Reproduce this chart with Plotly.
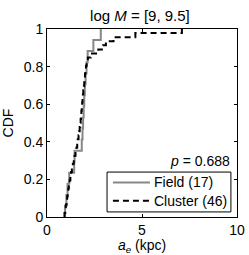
import plotly.graph_objects as go

field = [0.95, 1.02, 1.08, 1.17, 1.43, 1.45, 1.83, 1.87, 1.9, 1.93, 1.96, 1.99,
         2.03, 2.08, 2.14, 2.44, 2.83]
cluster = [0.92, 0.96, 0.99, 1.03, 1.06, 1.09, 1.12, 1.15, 1.19, 1.23, 1.27, 1.31,
           1.36, 1.41, 1.45, 1.5, 1.55, 1.59, 1.62, 1.66, 1.69, 1.72, 1.75, 1.77,
           1.79, 1.81, 1.83, 1.85, 1.87, 1.89, 1.91, 1.94, 1.96, 1.98, 2.0, 2.02,
           2.05, 2.09, 2.15, 2.3, 2.7, 2.95, 3.1, 3.5, 4.65, 7.1]
x_ticks = [0, 5, 10]
y_ticks = [0, 0.2, 0.4, 0.6, 0.8, 1]
p_value = "0.688"


def ecdf(vals):
    s = sorted(vals)
    n = len(s)
    xs = [s[0]] + s
    ys = [0] + [(i + 1) / n for i in range(n)]
    return xs, ys


FONT = "Liberation Sans, Arial, Helvetica, sans-serif"
FIELD_COLOR = "rgb(135,135,135)"
fig = go.Figure()
fx, fy = ecdf(field)
cx, cy = ecdf(cluster)
fig.add_trace(go.Scatter(x=fx, y=fy, mode="lines", line_shape="hv",
                         line=dict(color=FIELD_COLOR, width=2),
                         name=f"Field ({len(field)})", showlegend=False))
fig.add_trace(go.Scatter(x=cx, y=cy, mode="lines", line_shape="hv",
                         line=dict(color="black", width=2, dash="6px,4px"),
                         name=f"Cluster ({len(cluster)})", showlegend=False))

axis_common = dict(showline=True, linecolor="black", linewidth=1, mirror="ticks",
                   ticks="inside", ticklen=3, tickcolor="black", showgrid=False,
                   zeroline=False, automargin=False,
                   tickfont=dict(family=FONT, size=14, color="black"))
fig.update_xaxes(range=[0, 10], tickvals=x_ticks, ticktext=[str(t) for t in x_ticks],
                 title=dict(text="<i>a</i><sub><i>e</i></sub> (kpc)",
                            font=dict(family=FONT, size=14, color="black"), standoff=2),
                 **axis_common)
fig.update_yaxes(range=[0, 1], tickvals=y_ticks,
                 ticktext=["0", "0.2", "0.4", "0.6", "0.8", "1"],
                 title=dict(text="CDF", font=dict(family=FONT, size=14, color="black"),
                            standoff=8),
                 **axis_common)

# legend drawn manually (box, line samples, labels)
lx0, lx1, ly0, ly1 = 0.316, 0.968, 0.027, 0.239
rows = [(0.184, FIELD_COLOR, "solid", f"Field ({len(field)})"),
        (0.087, "black", "dash", f"Cluster ({len(cluster)})")]
shapes = [dict(type="rect", xref="paper", yref="paper", x0=lx0, x1=lx1, y0=ly0, y1=ly1,
               line=dict(color="black", width=1), fillcolor="white", layer="above")]
annotations = []
for ry, col, dsh, label in rows:
    shapes.append(dict(type="line", xref="paper", yref="paper", x0=0.347, x1=0.542,
                       y0=ry, y1=ry, layer="above",
                       line=dict(color=col, width=2, dash="6px,4px" if dsh == "dash" else "solid")))
    annotations.append(dict(x=0.55, y=ry, xref="paper", yref="paper", xanchor="left",
                            yanchor="middle", showarrow=False, text=label,
                            font=dict(family=FONT, size=14, color="black")))
annotations.append(dict(x=0.972, y=0.30, xref="paper", yref="paper", xanchor="right",
                        yanchor="middle", showarrow=False,
                        text=f"<i>p</i> = {p_value}",
                        font=dict(family=FONT, size=14, color="black")))

fig.update_layout(
    width=249, height=255,
    margin=dict(l=47, r=12, t=29, b=38),
    plot_bgcolor="white", paper_bgcolor="white",
    title=dict(text="log <i>M</i> = [9, 9.5]", x=0.562, xanchor="center", y=0.94,
               yanchor="middle", font=dict(family=FONT, size=15, color="black")),
    showlegend=False,
    shapes=shapes,
    annotations=annotations,
)
fig.write_html("out.html", config={"displayModeBar": False},
               post_script="document.body.style.margin='0';document.body.style.padding='0';")
